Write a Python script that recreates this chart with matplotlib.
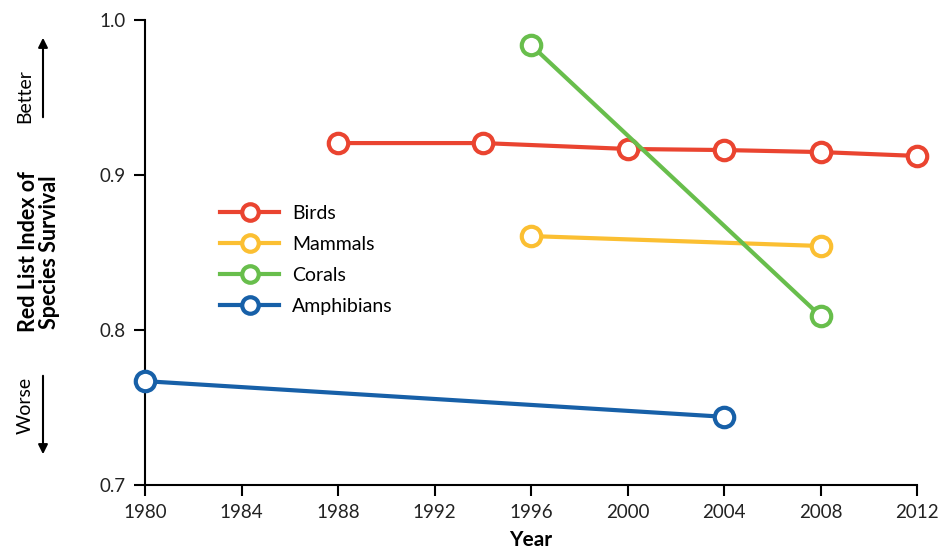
import matplotlib.pyplot as plt

plt.rcParams['font.family'] = ['Lato', 'DejaVu Sans']

# data
birds_years = [1988, 1994, 2000, 2004, 2008, 2012]
birds_vals = [0.9206, 0.9206, 0.9168, 0.9161, 0.9148, 0.9123]
mammals_years = [1996, 2008]
mammals_vals = [0.8606, 0.8542]
corals_years = [1996, 2008]
corals_vals = [0.9839, 0.809]
amphib_years = [1980, 2004]
amphib_vals = [0.767, 0.744]

x_ticks = [1980, 1984, 1988, 1992, 1996, 2000, 2004, 2008, 2012]
y_ticks = [0.7, 0.8, 0.9, 1.0]

series = [
    ("Birds", birds_years, birds_vals, "#EA4430"),
    ("Mammals", mammals_years, mammals_vals, "#FBBF32"),
    ("Corals", corals_years, corals_vals, "#68BE4C"),
    ("Amphibians", amphib_years, amphib_vals, "#1760A8"),
]

fig = plt.figure(figsize=(9.41, 5.6), dpi=100)
ax = fig.add_axes([145 / 941, 1 - 485 / 560, (917 - 145) / 941, (485 - 20) / 560])

for name, xs, ys, col in series:
    ax.plot(xs, ys, color=col, lw=3, marker='o', ms=14, mfc='white',
            mec=col, mew=3, label=name, clip_on=False, zorder=3)

ax.set_xlim(1980, 2012)
ax.set_ylim(0.7, 1.0)
ax.set_xticks(x_ticks)
ax.set_yticks(y_ticks)
ax.set_yticklabels(["%.1f" % v for v in y_ticks])
ax.tick_params(direction='out', length=8, width=1.5, labelsize=13.5,
               colors='black', labelcolor='#222222', pad=6)
for s in ['top', 'right']:
    ax.spines[s].set_visible(False)
for s in ['left', 'bottom']:
    ax.spines[s].set_linewidth(1.5)

ax.set_xlabel("Year", fontsize=15, fontweight='bold', labelpad=6)

leg = ax.legend(loc='upper left', bbox_to_anchor=(0.075, 0.64), frameon=False,
                fontsize=14, handlelength=3.0, labelspacing=0.72,
                handletextpad=0.7, markerscale=0.85)

# y axis label and better / worse arrows
fig.text(39 / 941, 1 - 252 / 560, "Red List Index of\nSpecies Survival",
         rotation=90, ha='center', va='center', fontsize=15.5,
         fontweight='bold', linespacing=1.05)
fig.text(25 / 941, 1 - 96 / 560, "Better", rotation=90, ha='center',
         va='center', fontsize=14)
fig.text(25 / 941, 1 - 405 / 560, "Worse", rotation=90, ha='center',
         va='center', fontsize=14)
ax.annotate("", xy=(43 / 941, 1 - 35 / 560), xytext=(43 / 941, 1 - 120 / 560),
            xycoords='figure fraction', textcoords='figure fraction',
            arrowprops=dict(arrowstyle='-|>', color='black', lw=1.5,
                            mutation_scale=14), annotation_clip=False)
ax.annotate("", xy=(43 / 941, 1 - 457 / 560), xytext=(43 / 941, 1 - 373 / 560),
            xycoords='figure fraction', textcoords='figure fraction',
            arrowprops=dict(arrowstyle='-|>', color='black', lw=1.5,
                            mutation_scale=14), annotation_clip=False)

fig.savefig("out.png", dpi=100)
